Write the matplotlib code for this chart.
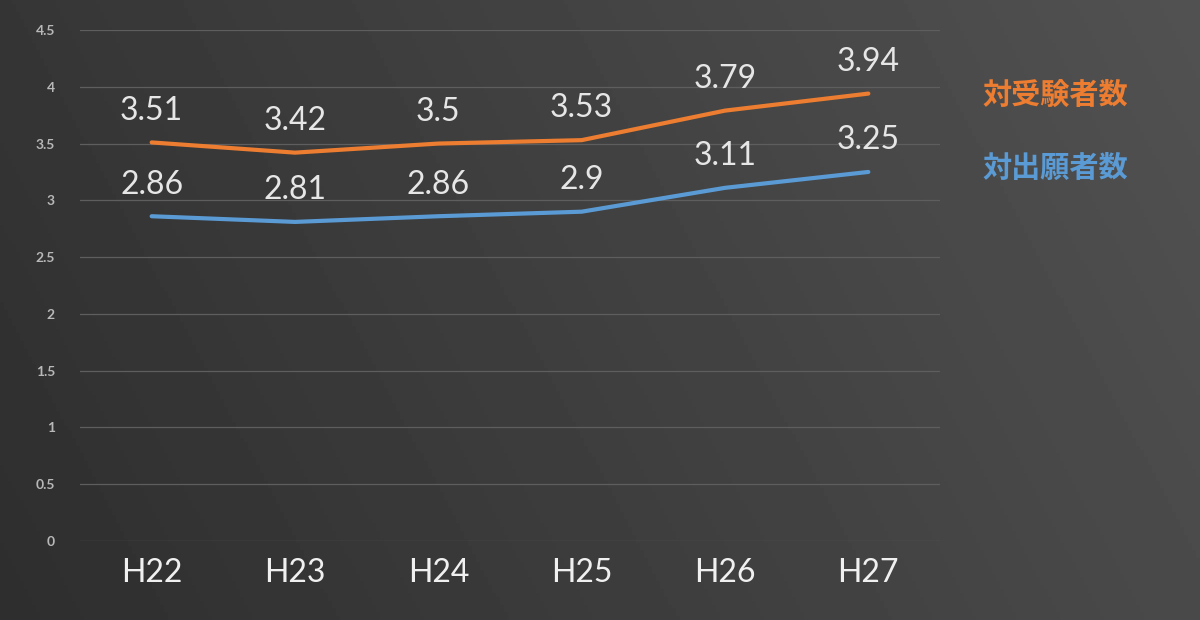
import numpy as np
import matplotlib
matplotlib.use("Agg")
import matplotlib.pyplot as plt

plt.rcParams['font.family'] = ['Lato', 'Noto Sans CJK JP', 'DejaVu Sans']

years = ["H22", "H23", "H24", "H25", "H26", "H27"]
juken = [3.51, 3.42, 3.5, 3.53, 3.79, 3.94]   # 対受験者数
shutsugan = [2.86, 2.81, 2.86, 2.9, 3.11, 3.25]  # 対出願者数
yticks = [0, 0.5, 1, 1.5, 2, 2.5, 3, 3.5, 4, 4.5]

orange = "#ED7D31"
blue = "#5B9BD5"

fig = plt.figure(figsize=(12, 6.2), dpi=100)

# background gradient
bg = fig.add_axes([0, 0, 1, 1], zorder=0)
xx, yy = np.meshgrid(np.linspace(0, 1, 300), np.linspace(0, 1, 160))
val = 0.18 + 0.11 * xx + 0.03 * yy
bg.imshow(val, cmap="gray", vmin=0, vmax=1, aspect="auto", origin="lower", extent=[0, 1, 0, 1])
bg.axis("off")

ax = fig.add_axes([80 / 1200, 79 / 620, 860 / 1200, 511 / 620], zorder=1)
ax.patch.set_alpha(0)
x = np.arange(len(years))

ax.plot(x, juken, color=orange, lw=3, solid_capstyle="round")
ax.plot(x, shutsugan, color=blue, lw=3, solid_capstyle="round")

for i in x:
    ax.annotate(f"{juken[i]:g}", (i, juken[i]), xytext=(0, 12), textcoords="offset points",
                ha="center", va="bottom", fontsize=23, color="#e6e6e6")
    ax.annotate(f"{shutsugan[i]:g}", (i, shutsugan[i]), xytext=(0, 12), textcoords="offset points",
                ha="center", va="bottom", fontsize=23, color="#e6e6e6")

ax.set_xlim(-0.5, len(years) - 0.5)
ax.set_ylim(0, 4.5)
ax.set_yticks(yticks)
ax.set_yticklabels([f"{t:g}" for t in yticks], fontsize=10, color="#b8b8b8", fontweight="bold")
ax.set_xticks(x)
ax.set_xticklabels(years, fontsize=23, color="#f0f0f0")
ax.tick_params(length=0)
ax.tick_params(axis="y", pad=18)
ax.tick_params(axis="x", pad=12)
ax.grid(axis="y", color="#5e5e5e", lw=0.9)
ax.set_axisbelow(True)
for s in ax.spines.values():
    s.set_visible(False)

fig.text(1055 / 1200, 1 - 95 / 620, "対受験者数", color=orange, fontsize=21, fontweight="bold",
         ha="center", va="center", family=['Noto Sans CJK JP'])
fig.text(1055 / 1200, 1 - 168 / 620, "対出願者数", color=blue, fontsize=21, fontweight="bold",
         ha="center", va="center", family=['Noto Sans CJK JP'])

fig.savefig("out.png", dpi=100)
